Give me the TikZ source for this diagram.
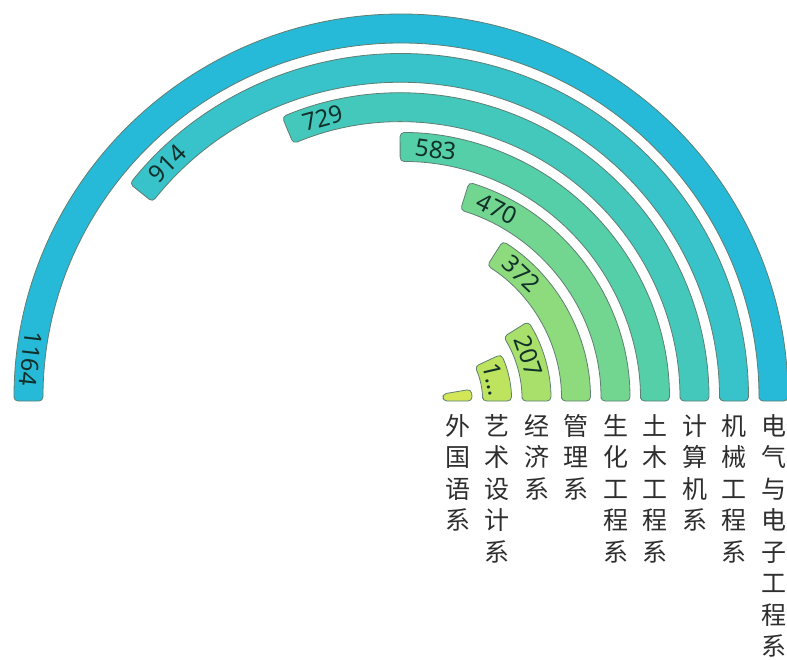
\documentclass[tikz,border=0pt]{standalone}
\usepackage{fontspec}
\setmainfont{Noto Sans CJK SC}
\newfontfamily\cjkf{Noto Sans CJK SC}
\newfontfamily\latf{Noto Sans}
\definecolor{c0}{HTML}{D2E658}
\definecolor{c1}{HTML}{BDE35F}
\definecolor{c2}{HTML}{A8E06B}
\definecolor{c3}{HTML}{8EDB7E}
\definecolor{c4}{HTML}{73D690}
\definecolor{c5}{HTML}{55CFA8}
\definecolor{c6}{HTML}{44C8BC}
\definecolor{c7}{HTML}{38C2C9}
\definecolor{c8}{HTML}{27B9D8}
\definecolor{bordc}{HTML}{5E7F72}
\definecolor{valc}{HTML}{12302A}
\definecolor{catc}{HTML}{2E2E2E}
\tikzset{
  barshape/.style={draw=bordc, line width=0.8pt, rounded corners=4pt},
  vallabel/.style={inner sep=0pt, text=valc, font=\latf\fontsize{24}{24}\selectfont},
  catlabel/.style={inner sep=0pt, anchor=north, align=center, text=catc, font=\cjkf\fontsize{25}{31.5}\selectfont}
}
\begin{document}
\begin{tikzpicture}[x=1pt,y=1pt]
\useasboundingbox (-401,-258) rectangle (386,401);
% bars: index / end angle
\foreach \i/\a in {0/9.5, 1/25, 2/32.0, 3/57.5, 4/72.7, 5/90.2, 6/112.7, 7/141.3, 8/180}{
  \pgfmathsetmacro\rin{42+39.5*\i}
  \pgfmathsetmacro\rout{\rin+29}
  \draw[barshape, fill=c\i] (0:\rin) -- (0:\rout)
     arc[start angle=0, end angle=\a, radius=\rout] -- (\a:\rin)
     arc[start angle=\a, end angle=0, radius=\rin] -- cycle;
}
% value labels: index / label angle / rotation / text
\foreach \i/\la/\rot/\t in {1/13/-77/{1…}, 2/19.4/-70.6/207, 3/46.6/-43.4/372, 4/63.4/-26.6/470, 5/82/-8/583, 6/105.4/15.4/729, 7/134.5/44.5/914, 8/173.5/-96.5/1164}{
  \pgfmathsetmacro\rmid{42+39.5*\i+14.5}
  \node[vallabel, rotate=\rot] (v\i) at (\la:\rmid) {\t};
}
% category labels
\foreach \i/\t in {0/{外\\国\\语\\系}, 1/{艺\\术\\设\\计\\系}, 2/{经\\济\\系}, 3/{管\\理\\系}, 4/{生\\化\\工\\程\\系}, 5/{土\\木\\工\\程\\系}, 6/{计\\算\\机\\系}, 7/{机\\械\\工\\程\\系}, 8/{电\\气\\与\\电\\子\\工\\程\\系}}{
  \pgfmathsetmacro\xc{56.5+39.5*\i}
  \node[catlabel] (k\i) at (\xc,-13) {\t};
}
\end{tikzpicture}
\end{document}
